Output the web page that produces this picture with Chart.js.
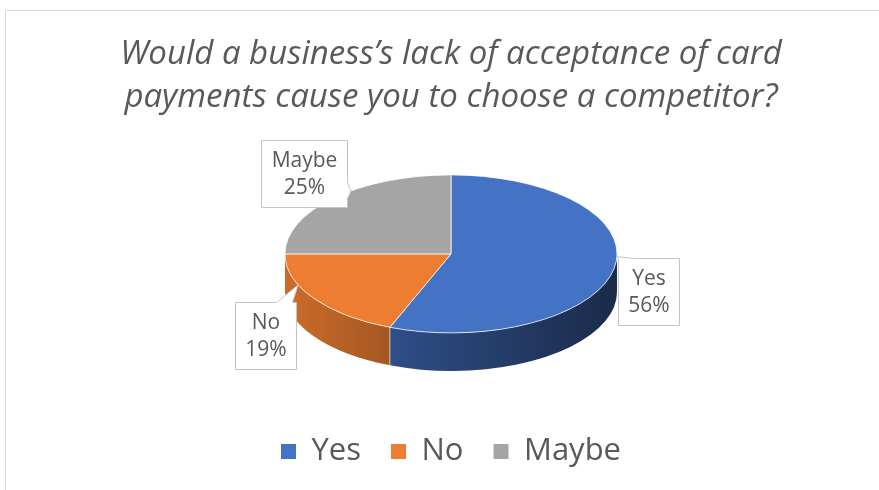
<!DOCTYPE html>
<html>
<head>
<meta charset="utf-8">
<title>Card payments survey</title>
<script src="https://cdn.jsdelivr.net/npm/chart.js@4.4.1/dist/chart.umd.min.js"></script>
<style>
  html, body { margin: 0; padding: 0; background: #fff; overflow: hidden; }
  #frame {
    position: absolute; left: 5px; top: 10px; width: 890px; height: 480px;
    border-top: 1px solid #d9d9d9; border-left: 1px solid #d9d9d9;
  }
</style>
</head>
<body>
<div id="frame"><canvas id="cardChart"></canvas></div>
<script>
const titleLines = ['Would a business\u2019s lack of acceptance of card', 'payments cause you to choose a competitor?'];
const answers = ['Yes', 'No', 'Maybe'];
const shares = [56, 19, 25];
const sliceColors = ['#4472C4', '#ED7D31', '#A5A5A5'];

const TILT = 0.476;   // vertical squash of the top face
const DEPTH = 38;     // height of the side wall
const TEXT = '#595959';
const FONT = '"Open Sans"';

// callout boxes: centre offset from the top face centre, and rim angle (deg) the pointer goes to
const callouts = [
  { dx: 198, dy: 38, tipDeg: 2 },
  { dx: -185, dy: 82, tipDeg: 157 },
  { dx: -147, dy: -80, tipDeg: 233 }
];

function shade(hex, f) {
  const n = parseInt(hex.slice(1), 16);
  const r = Math.round(((n >> 16) & 255) * f);
  const g = Math.round(((n >> 8) & 255) * f);
  const b = Math.round((n & 255) * f);
  return `rgb(${r},${g},${b})`;
}

function pieGeometry(chart) {
  const arcs = chart.getDatasetMeta(0).data;
  const a = arcs[0];
  const rx = a.outerRadius;
  return { arcs, ox: a.x, oy: a.y, cx: a.x, cy: a.y - DEPTH / 2, rx, ry: rx * TILT };
}

function rimPoint(e, ang) {
  return { x: e.cx + e.rx * Math.cos(ang), y: e.cy + e.ry * Math.sin(ang) };
}

function drawWall(ctx, e, a0, a1, color) {
  const g = ctx.createLinearGradient(e.cx - e.rx, 0, e.cx + e.rx, 0);
  g.addColorStop(0, shade(color, 0.86));
  g.addColorStop(0.5, shade(color, 0.6));
  g.addColorStop(1, shade(color, 0.38));
  ctx.beginPath();
  ctx.ellipse(e.cx, e.cy, e.rx, e.ry, 0, a0, a1);
  ctx.ellipse(e.cx, e.cy + DEPTH, e.rx, e.ry, 0, a1, a0, true);
  ctx.closePath();
  ctx.fillStyle = g;
  ctx.fill();
}

function drawCallout(ctx, e, i) {
  const c = callouts[i];
  const total = shares.reduce((s, v) => s + v, 0);
  const lines = [answers[i], Math.round(shares[i] / total * 100) + '%'];
  ctx.font = `21px ${FONT}`;
  const w = Math.max(...lines.map(t => ctx.measureText(t).width)) + 20;
  const h = 67;
  const x0 = Math.round(e.cx + c.dx - w / 2) + 0.5;
  const y0 = Math.round(e.cy + c.dy - h / 2) + 0.5;
  const x1 = x0 + Math.round(w);
  const y1 = y0 + h;
  const tip = rimPoint(e, c.tipDeg * Math.PI / 180);

  // pick the box side the pointer leaves from
  const out = { left: x0 - tip.x, right: tip.x - x1, top: y0 - tip.y, bottom: tip.y - y1 };
  let side = 'left';
  for (const k in out) if (out[k] > out[side]) side = k;
  const half = 8;
  const horiz = side === 'top' || side === 'bottom';
  const lo = horiz ? x0 : y0, hi = horiz ? x1 : y1;
  const mid = Math.min(Math.max(horiz ? tip.x : tip.y, lo + half), hi - half - 4);
  const b0 = mid - half, b1 = mid + half;

  ctx.beginPath();
  ctx.moveTo(x0, y0);
  if (side === 'top') { ctx.lineTo(b0, y0); ctx.lineTo(tip.x, tip.y); ctx.lineTo(b1, y0); }
  ctx.lineTo(x1, y0);
  if (side === 'right') { ctx.lineTo(x1, b0); ctx.lineTo(tip.x, tip.y); ctx.lineTo(x1, b1); }
  ctx.lineTo(x1, y1);
  if (side === 'bottom') { ctx.lineTo(b1, y1); ctx.lineTo(tip.x, tip.y); ctx.lineTo(b0, y1); }
  ctx.lineTo(x0, y1);
  if (side === 'left') { ctx.lineTo(x0, b1); ctx.lineTo(tip.x, tip.y); ctx.lineTo(x0, b0); }
  ctx.closePath();
  ctx.fillStyle = '#ffffff';
  ctx.fill();
  ctx.lineWidth = 1;
  ctx.strokeStyle = '#c4c4c4';
  ctx.stroke();

  ctx.fillStyle = TEXT;
  ctx.textAlign = 'center';
  ctx.textBaseline = 'middle';
  const cx = (x0 + x1) / 2, cy = (y0 + y1) / 2;
  ctx.fillText(lines[0], cx, cy - 13);
  ctx.fillText(lines[1], cx, cy + 14);
}

// squashes the pie into a tilted disc and gives it a side wall
const pie3d = {
  id: 'pie3d',
  beforeDatasetsDraw(chart) {
    const { ctx } = chart;
    const e = pieGeometry(chart);
    ctx.save();
    e.arcs.forEach((arc, i) => {
      // only the front half of the wall (0..PI) is visible
      for (const shift of [0, 2 * Math.PI, -2 * Math.PI]) {
        const a0 = Math.max(arc.startAngle, shift);
        const a1 = Math.min(arc.endAngle, shift + Math.PI);
        if (a1 > a0) drawWall(ctx, e, a0 - shift, a1 - shift, sliceColors[i]);
      }
    });
    // light seams where walls meet
    ctx.strokeStyle = 'rgba(255,255,255,0.6)';
    ctx.lineWidth = 1;
    e.arcs.forEach(arc => {
      const a = ((arc.endAngle % (2 * Math.PI)) + 2 * Math.PI) % (2 * Math.PI);
      if (a > 0.01 && a < Math.PI - 0.01) {
        const p = rimPoint(e, a);
        ctx.beginPath();
        ctx.moveTo(p.x, p.y);
        ctx.lineTo(p.x, p.y + DEPTH);
        ctx.stroke();
      }
    });
    ctx.restore();

    ctx.save();
    ctx.translate(e.cx, e.cy);
    ctx.scale(1, TILT);
    ctx.translate(-e.ox, -e.oy);
  },
  afterDatasetsDraw(chart) {
    const { ctx } = chart;
    ctx.restore();
    const e = pieGeometry(chart);
    ctx.save();
    e.arcs.forEach((arc, i) => drawCallout(ctx, e, i));
    ctx.restore();
  }
};

const ctx = document.getElementById('cardChart').getContext('2d');
new Chart(ctx, {
  type: 'pie',
  data: {
    labels: answers,
    datasets: [{
      data: shares,
      backgroundColor: sliceColors,
      borderColor: '#ffffff',
      borderWidth: 1,
      radius: 166
    }]
  },
  options: {
    responsive: true,
    maintainAspectRatio: false,
    animation: false,
    events: [],
    layout: { padding: { bottom: 14 } },
    plugins: {
      title: {
        display: true,
        text: titleLines,
        color: TEXT,
        font: { family: FONT, size: 33, style: 'italic', weight: 400, lineHeight: 1.3 },
        padding: { top: 22, bottom: 21 }
      },
      legend: {
        position: 'bottom',
        labels: {
          color: TEXT,
          boxWidth: 15,
          boxHeight: 15,
          padding: 30,
          font: { family: FONT, size: 31 },
          generateLabels(chart) {
            return Chart.overrides.doughnut.plugins.legend.labels.generateLabels(chart)
              .map(item => ({ ...item, lineWidth: 0 }));
          }
        }
      },
      tooltip: { enabled: false }
    }
  },
  plugins: [pie3d]
});
</script>
</body>
</html>
